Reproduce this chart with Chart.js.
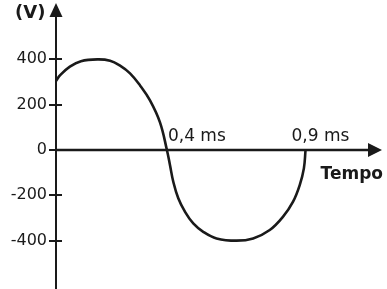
<!DOCTYPE html>
<html>
<head>
<meta charset="utf-8">
<script src="https://cdn.jsdelivr.net/npm/chart.js@4/dist/chart.umd.min.js"></script>
<style>
  html, body { margin: 0; padding: 0; background: #fff; }
  canvas { display: block; }
</style>
</head>
<body>
<canvas id="chart" width="387" height="289"></canvas>
<script>
// values (time in ms, voltage in V)
const timeMs = [0, 0.015, 0.05, 0.09, 0.15, 0.195, 0.231, 0.267, 0.303, 0.339, 0.375, 0.40,
                0.411, 0.423, 0.441, 0.465, 0.495, 0.531, 0.579, 0.651, 0.711, 0.771, 0.819,
                0.855, 0.879, 0.894, 0.90];
const volts = [305, 330, 368, 392, 400, 394, 372, 338, 285, 219, 122, 0,
               -66, -140, -213, -272, -324, -361, -390, -400, -390, -353, -294,
               -228, -155, -81, 0];

const yTicks = [-400, -200, 0, 200, 400];
const yTickLabels = ["-400", "-200", "0", "200", "400"];
const xMarks = [0.4, 0.9];
const xMarkLabels = ["0,4 ms", "0,9 ms"];
const yTitle = "(V)";
const xTitle = "Tempo";

const INK = "#1a1a1a";

// axis lines, arrows, tick marks and annotations
const axesPlugin = {
    id: "axes",
    afterDraw(chart) {
        const ctx = chart.ctx;
        const xs = chart.scales.x;
        const ys = chart.scales.y;
        const x0 = xs.getPixelForValue(0);
        const y0 = ys.getPixelForValue(0);

        ctx.save();
        ctx.strokeStyle = INK;
        ctx.fillStyle = INK;

        // vertical axis
        ctx.lineWidth = 2;
        ctx.beginPath();
        ctx.moveTo(x0, 15);
        ctx.lineTo(x0, chart.height);
        ctx.stroke();
        ctx.beginPath();
        ctx.moveTo(x0, 3);
        ctx.lineTo(x0 - 6.5, 17);
        ctx.lineTo(x0 + 6.5, 17);
        ctx.closePath();
        ctx.fill();

        // tick marks across the vertical axis
        yTicks.forEach(v => {
            const py = Math.round(ys.getPixelForValue(v));
            ctx.beginPath();
            ctx.moveTo(x0 - 7, py);
            ctx.lineTo(x0 + 6, py);
            ctx.stroke();
        });

        // horizontal axis
        ctx.lineWidth = 2.5;
        ctx.beginPath();
        ctx.moveTo(x0, y0);
        ctx.lineTo(370, y0);
        ctx.stroke();
        ctx.beginPath();
        ctx.moveTo(382, y0);
        ctx.lineTo(368, y0 - 7);
        ctx.lineTo(368, y0 + 7);
        ctx.closePath();
        ctx.fill();

        // time labels above the axis
        ctx.font = "17px 'DejaVu Sans'";
        ctx.textAlign = "left";
        ctx.textBaseline = "alphabetic";
        const offs = [1, -14];
        xMarks.forEach((t, i) => {
            ctx.fillText(xMarkLabels[i], xs.getPixelForValue(t) + offs[i], y0 - 9);
        });

        ctx.font = "bold 17px 'DejaVu Sans'";
        ctx.textAlign = "right";
        ctx.fillText(xTitle, 383, 179);

        ctx.font = "bold 18px 'DejaVu Sans'";
        ctx.textAlign = "left";
        ctx.fillText(yTitle, 15, 18);
        ctx.restore();
    }
};

new Chart(document.getElementById("chart"), {
    type: "line",
    data: {
        datasets: [{
            data: timeMs.map((t, i) => ({ x: t, y: volts[i] })),
            borderColor: INK,
            borderWidth: 2.6,
            pointRadius: 0,
            tension: 0.4,
            fill: false,
        }],
    },
    options: {
        responsive: false,
        animation: false,
        devicePixelRatio: 1,
        layout: { padding: { left: 0, right: 26, top: 14, bottom: 3 } },
        plugins: { legend: { display: false }, tooltip: { enabled: false } },
        scales: {
            x: { type: "linear", min: 0, max: 1.1, display: false },
            y: {
                min: -600,
                max: 600,
                afterBuildTicks: s => { s.ticks = yTicks.map(v => ({ value: v })); },
                afterFit: s => { s.width = 56; },
                grid: { display: false, drawTicks: true, tickLength: 9 },
                border: { display: false },
                ticks: {
                    padding: 0,
                    color: INK,
                    font: { family: "DejaVu Sans", size: 16, lineHeight: 0.3 },
                    callback: v => yTickLabels[yTicks.indexOf(v)],
                },
            },
        },
    },
    plugins: [axesPlugin],
});
</script>
</body>
</html>
